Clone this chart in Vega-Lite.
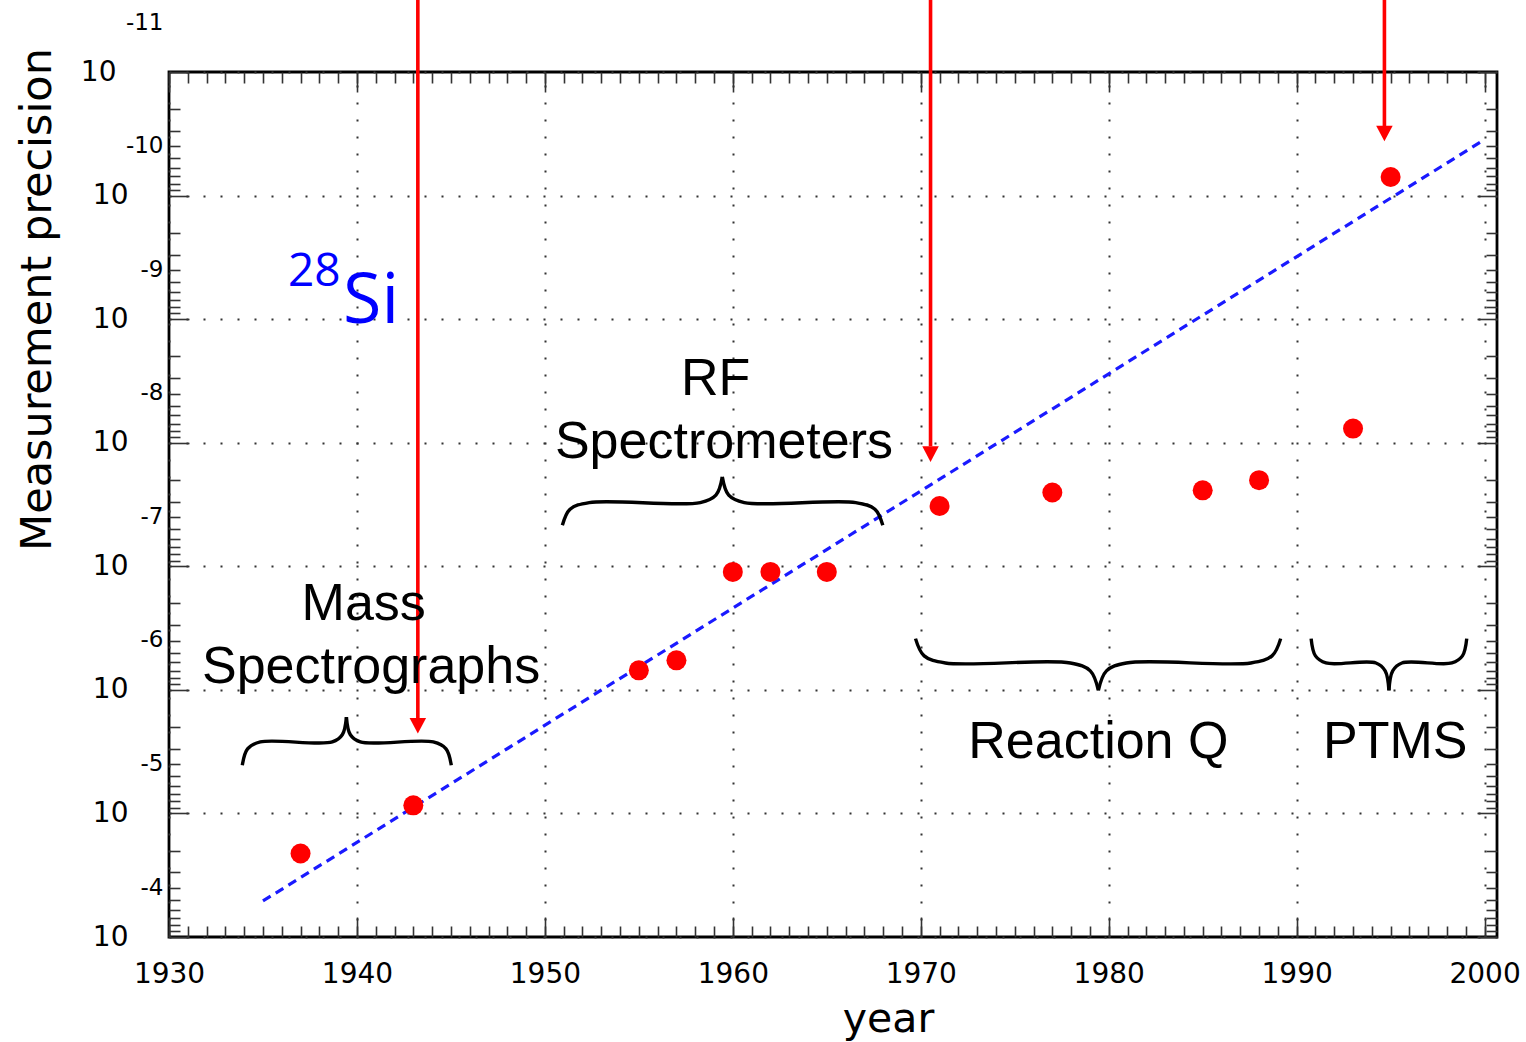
{
  "$schema": "https://vega.github.io/schema/vega-lite/v6.json",
  "width": 1328,
  "height": 865,
  "autosize": {"type": "none"},
  "padding": {"left": 169, "top": 72, "right": 29, "bottom": 105},
  "background": "white",
  "config": {
    "view": {"stroke": "#000000", "strokeWidth": 2.8},
    "font": "DejaVu Sans",
    "axis": {
      "labelColor": "#000000",
      "titleColor": "#000000",
      "labelFont": "DejaVu Sans",
      "titleFont": "DejaVu Sans",
      "titleFontWeight": "normal",
      "tickColor": "#333333",
      "tickWidth": 1.6,
      "gridColor": "#333333",
      "gridDash": [2, 15],
      "gridWidth": 2,
      "domain": false,
      "labelFlush": false,
      "labelOverlap": false,
      "labelBound": false
    }
  },
  "resolve": {"axis": {"x": "independent", "y": "independent"}},
  "layer": [
    {
      "data": {"values": [
        {"year": 1935, "precision": 5.11e-5},
        {"year": 2000, "precision": 3.52e-11}
      ]},
      "mark": {"type": "line", "color": "#1a1aff", "strokeWidth": 3.2, "strokeDash": [9, 6]},
      "encoding": {
        "x": {"field": "year", "type": "quantitative",
          "scale": {"domain": [1930, 2000.66], "nice": false, "zero": false},
          "axis": {"orient": "bottom", "values": [1930, 1940, 1950, 1960, 1970, 1980, 1990, 2000], "format": "d",
            "ticks": false, "grid": false, "labelFontSize": 28, "labelPadding": 23,
            "title": "year", "titleFontSize": 41, "titleX": 719, "titleY": 94,
            "titleAlign": "center", "titleBaseline": "alphabetic"}},
        "y": {"field": "precision", "type": "quantitative",
          "scale": {"type": "log", "domain": [1e-11, 1e-4], "reverse": true, "nice": false},
          "axis": {"orient": "left", "values": [1e-11, 1e-10, 1e-9, 1e-8, 1e-7, 1e-6, 1e-5, 1e-4],
            "labelExpr": "'10'", "ticks": false, "grid": false, "labelFontSize": 28,
            "labelPadding": {"condition": {"test": "datum.value < 5e-11", "value": 53}, "value": 41},
            "title": "Measurement precision", "titleFontSize": 43, "titleAngle": -90,
            "titleX": -119, "titleY": 227, "titleAlign": "center", "titleBaseline": "alphabetic"}}
      }
    },
    {
      "data": {"values": [
        {"year": 1937, "precision": 2.11e-5},
        {"year": 1943, "precision": 8.6e-6},
        {"year": 1955, "precision": 6.95e-7},
        {"year": 1957, "precision": 5.77e-7},
        {"year": 1960, "precision": 1.11e-7},
        {"year": 1962, "precision": 1.11e-7},
        {"year": 1965, "precision": 1.11e-7},
        {"year": 1971, "precision": 3.25e-8},
        {"year": 1977, "precision": 2.53e-8},
        {"year": 1985, "precision": 2.43e-8},
        {"year": 1988, "precision": 2.01e-8},
        {"year": 1993, "precision": 7.69e-9},
        {"year": 1995, "precision": 7.07e-11}
      ]},
      "mark": {"type": "circle", "color": "#ff0000", "size": 400, "opacity": 1},
      "encoding": {
        "x": {"field": "year", "type": "quantitative",
          "scale": {"domain": [1930, 2000.66], "nice": false, "zero": false},
          "axis": {"orient": "bottom", "values": [1930, 1940, 1950, 1960, 1970, 1980, 1990, 2000],
            "labels": false, "tickSize": -20, "grid": true, "title": null}},
        "y": {"field": "precision", "type": "quantitative",
          "scale": {"type": "log", "domain": [1e-11, 1e-4], "reverse": true, "nice": false},
          "axis": {"orient": "left", "values": [1e-11, 1e-10, 1e-9, 1e-8, 1e-7, 1e-6, 1e-5, 1e-4],
            "labelExpr": "'' + round(log(datum.value) / LN10)", "ticks": false, "grid": false,
            "labelFontSize": 23, "labelPadding": 6, "labelOffset": -50, "title": null}}
      }
    },
    {
      "data": {"values": [
        {"year": 1943.24, "top": 2.5e-12, "head": 1.69e-6, "tip": 2.26e-6},
        {"year": 1970.52, "top": 2.5e-12, "head": 1.07e-8, "tip": 1.43e-8},
        {"year": 1994.67, "top": 2.5e-12, "head": 2.75e-11, "tip": 3.64e-11}
      ]},
      "mark": {"type": "rule", "color": "#ff0000", "strokeWidth": 3.6},
      "encoding": {
        "x": {"field": "year", "type": "quantitative",
          "scale": {"domain": [1930, 2000.66], "nice": false, "zero": false},
          "axis": {"orient": "bottom", "values": [1930,1931,1932,1933,1934,1935,1936,1937,1938,1939,1940,1941,1942,1943,1944,1945,1946,1947,1948,1949,1950,1951,1952,1953,1954,1955,1956,1957,1958,1959,1960,1961,1962,1963,1964,1965,1966,1967,1968,1969,1970,1971,1972,1973,1974,1975,1976,1977,1978,1979,1980,1981,1982,1983,1984,1985,1986,1987,1988,1989,1990,1991,1992,1993,1994,1995,1996,1997,1998,1999,2000],
            "labels": false, "tickSize": -11, "grid": false, "title": null}},
        "y": {"field": "top", "type": "quantitative",
          "scale": {"type": "log", "domain": [1e-11, 1e-4], "reverse": true, "nice": false},
          "axis": {"orient": "left", "values": [1e-11, 1e-10, 1e-9, 1e-8, 1e-7, 1e-6, 1e-5, 1e-4],
            "labels": false, "tickSize": -20, "grid": true, "title": null}},
        "y2": {"field": "head"}
      }
    },
    {
      "data": {"values": [
        {"year": 1943.24, "tip": 2.26e-6},
        {"year": 1970.52, "tip": 1.43e-8},
        {"year": 1994.67, "tip": 3.64e-11}
      ]},
      "mark": {"type": "point", "shape": "M-1,-1.9L1,-1.9L0,0Z", "filled": true, "color": "#ff0000", "size": 272, "opacity": 1, "strokeWidth": 0},
      "encoding": {
        "x": {"field": "year", "type": "quantitative",
          "scale": {"domain": [1930, 2000.66], "nice": false, "zero": false},
          "axis": {"orient": "top", "values": [1930, 1940, 1950, 1960, 1970, 1980, 1990, 2000],
            "labels": false, "tickSize": -20, "grid": false, "title": null}},
        "y": {"field": "tip", "type": "quantitative",
          "scale": {"type": "log", "domain": [1e-11, 1e-4], "reverse": true, "nice": false},
          "axis": {"orient": "left", "values": [2e-11,3e-11,4e-11,5e-11,6e-11,7e-11,8e-11,9e-11,2e-10,3e-10,4e-10,5e-10,6e-10,7e-10,8e-10,9e-10,2e-9,3e-9,4e-9,5e-9,6e-9,7e-9,8e-9,9e-9,2e-8,3e-8,4e-8,5e-8,6e-8,7e-8,8e-8,9e-8,2e-7,3e-7,4e-7,5e-7,6e-7,7e-7,8e-7,9e-7,2e-6,3e-6,4e-6,5e-6,6e-6,7e-6,8e-6,9e-6,2e-5,3e-5,4e-5,5e-5,6e-5,7e-5,8e-5,9e-5],
            "labels": false, "tickSize": -11, "grid": false, "title": null}}
      }
    },
    {
      "data": {"values": [
        {"brace": "mass-L", "year": 1933.90, "precision": 4.08e-6},
        {"brace": "mass-L", "year": 1934.18, "precision": 3.00e-6},
        {"brace": "mass-L", "year": 1934.86, "precision": 2.64e-6},
        {"brace": "mass-L", "year": 1938.69, "precision": 2.64e-6},
        {"brace": "mass-L", "year": 1939.22, "precision": 2.31e-6},
        {"brace": "mass-L", "year": 1939.44, "precision": 1.66e-6},
        {"brace": "mass-R", "year": 1939.44, "precision": 1.66e-6},
        {"brace": "mass-R", "year": 1939.65, "precision": 2.31e-6},
        {"brace": "mass-R", "year": 1940.18, "precision": 2.64e-6},
        {"brace": "mass-R", "year": 1944.06, "precision": 2.64e-6},
        {"brace": "mass-R", "year": 1944.74, "precision": 3.00e-6},
        {"brace": "mass-R", "year": 1945.02, "precision": 4.08e-6},
        {"brace": "rf-L", "year": 1950.93, "precision": 4.66e-8},
        {"brace": "rf-L", "year": 1951.34, "precision": 3.45e-8},
        {"brace": "rf-L", "year": 1952.36, "precision": 3.05e-8},
        {"brace": "rf-L", "year": 1958.27, "precision": 3.05e-8},
        {"brace": "rf-L", "year": 1959.10, "precision": 2.66e-8},
        {"brace": "rf-L", "year": 1959.44, "precision": 1.89e-8},
        {"brace": "rf-R", "year": 1959.44, "precision": 1.89e-8},
        {"brace": "rf-R", "year": 1959.78, "precision": 2.66e-8},
        {"brace": "rf-R", "year": 1960.61, "precision": 3.05e-8},
        {"brace": "rf-R", "year": 1966.54, "precision": 3.05e-8},
        {"brace": "rf-R", "year": 1967.56, "precision": 3.45e-8},
        {"brace": "rf-R", "year": 1967.98, "precision": 4.66e-8},
        {"brace": "rq-L", "year": 1969.72, "precision": 3.85e-7},
        {"brace": "rq-L", "year": 1970.18, "precision": 5.31e-7},
        {"brace": "rq-L", "year": 1971.31, "precision": 6.06e-7},
        {"brace": "rq-L", "year": 1977.96, "precision": 6.06e-7},
        {"brace": "rq-L", "year": 1979.02, "precision": 7.02e-7},
        {"brace": "rq-L", "year": 1979.45, "precision": 1.01e-6},
        {"brace": "rq-R", "year": 1979.45, "precision": 1.01e-6},
        {"brace": "rq-R", "year": 1979.88, "precision": 7.02e-7},
        {"brace": "rq-R", "year": 1980.94, "precision": 6.06e-7},
        {"brace": "rq-R", "year": 1987.56, "precision": 6.06e-7},
        {"brace": "rq-R", "year": 1988.69, "precision": 5.31e-7},
        {"brace": "rq-R", "year": 1989.15, "precision": 3.85e-7},
        {"brace": "ptms-L", "year": 1990.77, "precision": 3.85e-7},
        {"brace": "ptms-L", "year": 1991.00, "precision": 5.31e-7},
        {"brace": "ptms-L", "year": 1991.56, "precision": 6.06e-7},
        {"brace": "ptms-L", "year": 1994.22, "precision": 6.06e-7},
        {"brace": "ptms-L", "year": 1994.71, "precision": 7.02e-7},
        {"brace": "ptms-L", "year": 1994.91, "precision": 1.01e-6},
        {"brace": "ptms-R", "year": 1994.91, "precision": 1.01e-6},
        {"brace": "ptms-R", "year": 1995.11, "precision": 7.02e-7},
        {"brace": "ptms-R", "year": 1995.60, "precision": 6.06e-7},
        {"brace": "ptms-R", "year": 1998.26, "precision": 6.06e-7},
        {"brace": "ptms-R", "year": 1998.82, "precision": 5.31e-7},
        {"brace": "ptms-R", "year": 1999.05, "precision": 3.85e-7}
      ]},
      "mark": {"type": "line", "color": "#000000", "strokeWidth": 3.4, "interpolate": "catmull-rom"},
      "encoding": {
        "x": {"field": "year", "type": "quantitative",
          "scale": {"domain": [1930, 2000.66], "nice": false, "zero": false},
          "axis": {"orient": "top", "values": [1930,1931,1932,1933,1934,1935,1936,1937,1938,1939,1940,1941,1942,1943,1944,1945,1946,1947,1948,1949,1950,1951,1952,1953,1954,1955,1956,1957,1958,1959,1960,1961,1962,1963,1964,1965,1966,1967,1968,1969,1970,1971,1972,1973,1974,1975,1976,1977,1978,1979,1980,1981,1982,1983,1984,1985,1986,1987,1988,1989,1990,1991,1992,1993,1994,1995,1996,1997,1998,1999,2000],
            "labels": false, "tickSize": -11, "grid": false, "title": null}},
        "y": {"field": "precision", "type": "quantitative",
          "scale": {"type": "log", "domain": [1e-11, 1e-4], "reverse": true, "nice": false},
          "axis": {"orient": "right", "values": [1e-11, 1e-10, 1e-9, 1e-8, 1e-7, 1e-6, 1e-5, 1e-4],
            "labels": false, "tickSize": -20, "grid": false, "title": null}},
        "detail": {"field": "brace", "type": "nominal"},
        "order": {"value": null}
      }
    },
    {
      "data": {"values": [
        {"label": "Mass", "year": 1940.36, "precision": 2.72e-7},
        {"label": "Spectrographs", "year": 1940.75, "precision": 8.85e-7},
        {"label": "RF", "year": 1959.08, "precision": 4.11e-9},
        {"label": "Spectrometers", "year": 1959.53, "precision": 1.34e-8},
        {"label": "Reaction Q", "year": 1979.45, "precision": 3.58e-6},
        {"label": "PTMS", "year": 1995.25, "precision": 3.58e-6}
      ]},
      "mark": {"type": "text", "font": "Liberation Sans", "fontSize": 52, "align": "center", "baseline": "alphabetic", "color": "#000000"},
      "encoding": {
        "x": {"field": "year", "type": "quantitative",
          "scale": {"domain": [1930, 2000.66], "nice": false, "zero": false}, "axis": null},
        "y": {"field": "precision", "type": "quantitative",
          "scale": {"type": "log", "domain": [1e-11, 1e-4], "reverse": true, "nice": false},
          "axis": {"orient": "right", "values": [2e-11,3e-11,4e-11,5e-11,6e-11,7e-11,8e-11,9e-11,2e-10,3e-10,4e-10,5e-10,6e-10,7e-10,8e-10,9e-10,2e-9,3e-9,4e-9,5e-9,6e-9,7e-9,8e-9,9e-9,2e-8,3e-8,4e-8,5e-8,6e-8,7e-8,8e-8,9e-8,2e-7,3e-7,4e-7,5e-7,6e-7,7e-7,8e-7,9e-7,2e-6,3e-6,4e-6,5e-6,6e-6,7e-6,8e-6,9e-6,2e-5,3e-5,4e-5,5e-5,6e-5,7e-5,8e-5,9e-5],
            "labels": false, "tickSize": -11, "grid": false, "title": null}},
        "text": {"field": "label"}
      }
    },
    {
      "data": {"values": [
        {"label": "Si", "year": 1939.26, "precision": 1.08e-9}
      ]},
      "mark": {"type": "text", "font": "Open Sans", "fontSize": 70, "align": "left", "baseline": "alphabetic", "color": "#0000ff"},
      "encoding": {
        "x": {"field": "year", "type": "quantitative",
          "scale": {"domain": [1930, 2000.66], "nice": false, "zero": false}, "axis": null},
        "y": {"field": "precision", "type": "quantitative",
          "scale": {"type": "log", "domain": [1e-11, 1e-4], "reverse": true, "nice": false}, "axis": null},
        "text": {"field": "label"}
      }
    },
    {
      "data": {"values": [
        {"label": "28", "year": 1936.33, "precision": 5.36e-10}
      ]},
      "mark": {"type": "text", "font": "Open Sans", "fontSize": 46, "align": "left", "baseline": "alphabetic", "color": "#0000ff"},
      "encoding": {
        "x": {"field": "year", "type": "quantitative",
          "scale": {"domain": [1930, 2000.66], "nice": false, "zero": false}, "axis": null},
        "y": {"field": "precision", "type": "quantitative",
          "scale": {"type": "log", "domain": [1e-11, 1e-4], "reverse": true, "nice": false}, "axis": null},
        "text": {"field": "label"}
      }
    }
  ]
}
